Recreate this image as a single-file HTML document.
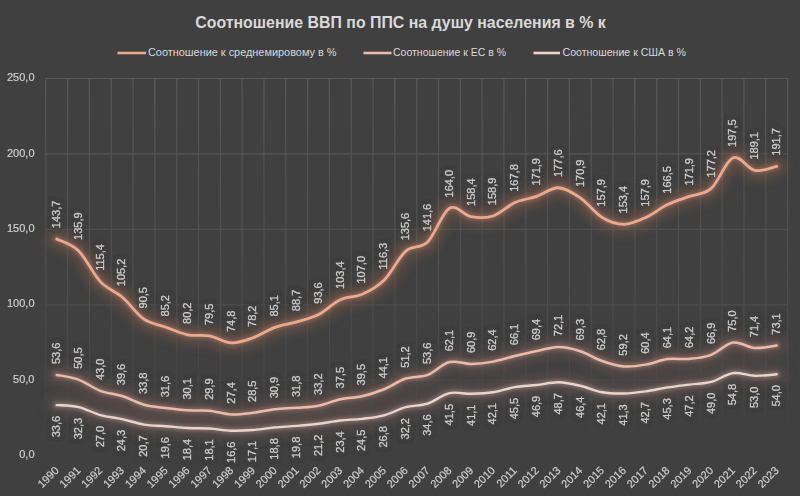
<!DOCTYPE html>
<html><head><meta charset="utf-8"><style>
html,body{margin:0;padding:0;background:#404040;}
body{width:800px;height:496px;overflow:hidden;}
svg{display:block;font-family:"Liberation Sans",sans-serif;}
</style></head><body>
<svg width="800" height="496" viewBox="0 0 800 496">
<defs>
<filter id="glow" x="-10%" y="-30%" width="120%" height="160%"><feGaussianBlur stdDeviation="5"/></filter>
<filter id="haloonly" x="-5%" y="-5%" width="110%" height="110%"><feMorphology in="SourceAlpha" operator="dilate" radius="1.5" result="d"/><feGaussianBlur in="d" stdDeviation="1.5" result="b"/><feFlood flood-color="#404040"/><feComposite in2="b" operator="in" result="h"/><feMerge><feMergeNode in="h"/><feMergeNode in="h"/></feMerge></filter>
<filter id="halo" x="-5%" y="-5%" width="110%" height="110%"><feMorphology in="SourceAlpha" operator="dilate" radius="1" result="d"/><feGaussianBlur in="d" stdDeviation="1.2" result="b"/><feFlood flood-color="#404040" flood-opacity="0.5"/><feComposite in2="b" operator="in" result="h"/><feMerge><feMergeNode in="h"/><feMergeNode in="SourceGraphic"/></feMerge></filter>
<linearGradient id="gfade" gradientUnits="userSpaceOnUse" x1="0" y1="78" x2="0" y2="456"><stop offset="0" stop-color="#fff" stop-opacity="1"/><stop offset="0.6" stop-color="#fff" stop-opacity="0.5"/><stop offset="0.95" stop-color="#fff" stop-opacity="0.05"/><stop offset="1" stop-color="#fff" stop-opacity="0"/></linearGradient>
<mask id="gmask" maskUnits="userSpaceOnUse" x="0" y="0" width="800" height="496"><rect x="0" y="0" width="800" height="496" fill="url(#gfade)"/></mask>
<filter id="lglow" x="-20%" y="-20%" width="140%" height="140%"><feGaussianBlur stdDeviation="1.5"/></filter>
</defs>
<rect width="800" height="496" fill="#404040"/>

<g stroke="#595959" stroke-width="1.2" fill="none" mask="url(#gmask)">
<line x1="45.80" y1="380.34" x2="787.60" y2="380.34"/>
<line x1="45.80" y1="304.88" x2="787.60" y2="304.88"/>
<line x1="45.80" y1="229.42" x2="787.60" y2="229.42"/>
<line x1="45.80" y1="153.96" x2="787.60" y2="153.96"/>
<line x1="45.80" y1="78.50" x2="787.60" y2="78.50"/>
<line x1="45.80" y1="78.50" x2="45.80" y2="455.80"/>
<line x1="67.62" y1="78.50" x2="67.62" y2="455.80"/>
<line x1="89.44" y1="78.50" x2="89.44" y2="455.80"/>
<line x1="111.25" y1="78.50" x2="111.25" y2="455.80"/>
<line x1="133.07" y1="78.50" x2="133.07" y2="455.80"/>
<line x1="154.89" y1="78.50" x2="154.89" y2="455.80"/>
<line x1="176.71" y1="78.50" x2="176.71" y2="455.80"/>
<line x1="198.52" y1="78.50" x2="198.52" y2="455.80"/>
<line x1="220.34" y1="78.50" x2="220.34" y2="455.80"/>
<line x1="242.16" y1="78.50" x2="242.16" y2="455.80"/>
<line x1="263.98" y1="78.50" x2="263.98" y2="455.80"/>
<line x1="285.79" y1="78.50" x2="285.79" y2="455.80"/>
<line x1="307.61" y1="78.50" x2="307.61" y2="455.80"/>
<line x1="329.43" y1="78.50" x2="329.43" y2="455.80"/>
<line x1="351.25" y1="78.50" x2="351.25" y2="455.80"/>
<line x1="373.06" y1="78.50" x2="373.06" y2="455.80"/>
<line x1="394.88" y1="78.50" x2="394.88" y2="455.80"/>
<line x1="416.70" y1="78.50" x2="416.70" y2="455.80"/>
<line x1="438.52" y1="78.50" x2="438.52" y2="455.80"/>
<line x1="460.34" y1="78.50" x2="460.34" y2="455.80"/>
<line x1="482.15" y1="78.50" x2="482.15" y2="455.80"/>
<line x1="503.97" y1="78.50" x2="503.97" y2="455.80"/>
<line x1="525.79" y1="78.50" x2="525.79" y2="455.80"/>
<line x1="547.61" y1="78.50" x2="547.61" y2="455.80"/>
<line x1="569.42" y1="78.50" x2="569.42" y2="455.80"/>
<line x1="591.24" y1="78.50" x2="591.24" y2="455.80"/>
<line x1="613.06" y1="78.50" x2="613.06" y2="455.80"/>
<line x1="634.88" y1="78.50" x2="634.88" y2="455.80"/>
<line x1="656.69" y1="78.50" x2="656.69" y2="455.80"/>
<line x1="678.51" y1="78.50" x2="678.51" y2="455.80"/>
<line x1="700.33" y1="78.50" x2="700.33" y2="455.80"/>
<line x1="722.15" y1="78.50" x2="722.15" y2="455.80"/>
<line x1="743.96" y1="78.50" x2="743.96" y2="455.80"/>
<line x1="765.78" y1="78.50" x2="765.78" y2="455.80"/>
<line x1="787.60" y1="78.50" x2="787.60" y2="455.80"/>
</g>
<g font-size="11.0" fill="#CDCDCD" stroke="#CDCDCD" stroke-width="0.2" filter="url(#haloonly)"><text transform="translate(57.41,228.13) rotate(-90)" x="0" y="2.6" text-anchor="start">143,7</text>
<text transform="translate(79.23,239.90) rotate(-90)" x="0" y="2.6" text-anchor="start">135,9</text>
<text transform="translate(101.04,270.84) rotate(-90)" x="0" y="2.6" text-anchor="start">115,4</text>
<text transform="translate(122.86,286.23) rotate(-90)" x="0" y="2.6" text-anchor="start">105,2</text>
<text transform="translate(144.68,308.42) rotate(-90)" x="0" y="2.6" text-anchor="start">90,5</text>
<text transform="translate(166.50,316.42) rotate(-90)" x="0" y="2.6" text-anchor="start">85,2</text>
<text transform="translate(188.31,323.96) rotate(-90)" x="0" y="2.6" text-anchor="start">80,2</text>
<text transform="translate(210.13,325.02) rotate(-90)" x="0" y="2.6" text-anchor="start">79,5</text>
<text transform="translate(231.95,332.11) rotate(-90)" x="0" y="2.6" text-anchor="start">74,8</text>
<text transform="translate(253.77,326.98) rotate(-90)" x="0" y="2.6" text-anchor="start">78,2</text>
<text transform="translate(275.59,316.57) rotate(-90)" x="0" y="2.6" text-anchor="start">85,1</text>
<text transform="translate(297.40,311.13) rotate(-90)" x="0" y="2.6" text-anchor="start">88,7</text>
<text transform="translate(319.22,303.74) rotate(-90)" x="0" y="2.6" text-anchor="start">93,6</text>
<text transform="translate(341.04,288.95) rotate(-90)" x="0" y="2.6" text-anchor="start">103,4</text>
<text transform="translate(362.86,283.52) rotate(-90)" x="0" y="2.6" text-anchor="start">107,0</text>
<text transform="translate(384.67,269.48) rotate(-90)" x="0" y="2.6" text-anchor="start">116,3</text>
<text transform="translate(406.49,240.35) rotate(-90)" x="0" y="2.6" text-anchor="start">135,6</text>
<text transform="translate(428.31,231.30) rotate(-90)" x="0" y="2.6" text-anchor="start">141,6</text>
<text transform="translate(450.13,197.49) rotate(-90)" x="0" y="2.6" text-anchor="start">164,0</text>
<text transform="translate(471.94,205.94) rotate(-90)" x="0" y="2.6" text-anchor="start">158,4</text>
<text transform="translate(493.76,205.19) rotate(-90)" x="0" y="2.6" text-anchor="start">158,9</text>
<text transform="translate(515.58,191.76) rotate(-90)" x="0" y="2.6" text-anchor="start">167,8</text>
<text transform="translate(537.40,185.57) rotate(-90)" x="0" y="2.6" text-anchor="start">171,9</text>
<text transform="translate(559.21,176.97) rotate(-90)" x="0" y="2.6" text-anchor="start">177,6</text>
<text transform="translate(581.03,187.08) rotate(-90)" x="0" y="2.6" text-anchor="start">170,9</text>
<text transform="translate(602.85,206.70) rotate(-90)" x="0" y="2.6" text-anchor="start">157,9</text>
<text transform="translate(624.67,213.49) rotate(-90)" x="0" y="2.6" text-anchor="start">153,4</text>
<text transform="translate(646.49,206.70) rotate(-90)" x="0" y="2.6" text-anchor="start">157,9</text>
<text transform="translate(668.30,193.72) rotate(-90)" x="0" y="2.6" text-anchor="start">166,5</text>
<text transform="translate(690.12,185.57) rotate(-90)" x="0" y="2.6" text-anchor="start">171,9</text>
<text transform="translate(711.94,177.57) rotate(-90)" x="0" y="2.6" text-anchor="start">177,2</text>
<text transform="translate(733.76,146.93) rotate(-90)" x="0" y="2.6" text-anchor="start">197,5</text>
<text transform="translate(755.57,159.61) rotate(-90)" x="0" y="2.6" text-anchor="start">189,1</text>
<text transform="translate(777.39,155.69) rotate(-90)" x="0" y="2.6" text-anchor="start">191,7</text>
<text transform="translate(57.41,364.11) rotate(-90)" x="0" y="2.6" text-anchor="start">53,6</text>
<text transform="translate(79.23,368.79) rotate(-90)" x="0" y="2.6" text-anchor="start">50,5</text>
<text transform="translate(101.04,380.10) rotate(-90)" x="0" y="2.6" text-anchor="start">43,0</text>
<text transform="translate(122.86,385.24) rotate(-90)" x="0" y="2.6" text-anchor="start">39,6</text>
<text transform="translate(144.68,393.99) rotate(-90)" x="0" y="2.6" text-anchor="start">33,8</text>
<text transform="translate(166.50,397.31) rotate(-90)" x="0" y="2.6" text-anchor="start">31,6</text>
<text transform="translate(188.31,399.57) rotate(-90)" x="0" y="2.6" text-anchor="start">30,1</text>
<text transform="translate(210.13,399.87) rotate(-90)" x="0" y="2.6" text-anchor="start">29,9</text>
<text transform="translate(231.95,403.65) rotate(-90)" x="0" y="2.6" text-anchor="start">27,4</text>
<text transform="translate(253.77,401.99) rotate(-90)" x="0" y="2.6" text-anchor="start">28,5</text>
<text transform="translate(275.59,398.37) rotate(-90)" x="0" y="2.6" text-anchor="start">30,9</text>
<text transform="translate(297.40,397.01) rotate(-90)" x="0" y="2.6" text-anchor="start">31,8</text>
<text transform="translate(319.22,394.89) rotate(-90)" x="0" y="2.6" text-anchor="start">33,2</text>
<text transform="translate(341.04,388.41) rotate(-90)" x="0" y="2.6" text-anchor="start">37,5</text>
<text transform="translate(362.86,385.39) rotate(-90)" x="0" y="2.6" text-anchor="start">39,5</text>
<text transform="translate(384.67,378.44) rotate(-90)" x="0" y="2.6" text-anchor="start">44,1</text>
<text transform="translate(406.49,367.73) rotate(-90)" x="0" y="2.6" text-anchor="start">51,2</text>
<text transform="translate(428.31,364.11) rotate(-90)" x="0" y="2.6" text-anchor="start">53,6</text>
<text transform="translate(450.13,351.28) rotate(-90)" x="0" y="2.6" text-anchor="start">62,1</text>
<text transform="translate(471.94,353.09) rotate(-90)" x="0" y="2.6" text-anchor="start">60,9</text>
<text transform="translate(493.76,350.83) rotate(-90)" x="0" y="2.6" text-anchor="start">62,4</text>
<text transform="translate(515.58,345.24) rotate(-90)" x="0" y="2.6" text-anchor="start">66,1</text>
<text transform="translate(537.40,340.26) rotate(-90)" x="0" y="2.6" text-anchor="start">69,4</text>
<text transform="translate(559.21,336.19) rotate(-90)" x="0" y="2.6" text-anchor="start">72,1</text>
<text transform="translate(581.03,340.41) rotate(-90)" x="0" y="2.6" text-anchor="start">69,3</text>
<text transform="translate(602.85,350.22) rotate(-90)" x="0" y="2.6" text-anchor="start">62,8</text>
<text transform="translate(624.67,355.66) rotate(-90)" x="0" y="2.6" text-anchor="start">59,2</text>
<text transform="translate(646.49,353.84) rotate(-90)" x="0" y="2.6" text-anchor="start">60,4</text>
<text transform="translate(668.30,348.26) rotate(-90)" x="0" y="2.6" text-anchor="start">64,1</text>
<text transform="translate(690.12,348.11) rotate(-90)" x="0" y="2.6" text-anchor="start">64,2</text>
<text transform="translate(711.94,344.03) rotate(-90)" x="0" y="2.6" text-anchor="start">66,9</text>
<text transform="translate(733.76,331.81) rotate(-90)" x="0" y="2.6" text-anchor="start">75,0</text>
<text transform="translate(755.57,337.24) rotate(-90)" x="0" y="2.6" text-anchor="start">71,4</text>
<text transform="translate(777.39,334.68) rotate(-90)" x="0" y="2.6" text-anchor="start">73,1</text>
<text transform="translate(57.41,415.89) rotate(-90)" x="0" y="2.6" text-anchor="end">33,6</text>
<text transform="translate(79.23,417.85) rotate(-90)" x="0" y="2.6" text-anchor="end">32,3</text>
<text transform="translate(101.04,425.85) rotate(-90)" x="0" y="2.6" text-anchor="end">27,0</text>
<text transform="translate(122.86,429.93) rotate(-90)" x="0" y="2.6" text-anchor="end">24,3</text>
<text transform="translate(144.68,435.36) rotate(-90)" x="0" y="2.6" text-anchor="end">20,7</text>
<text transform="translate(166.50,437.02) rotate(-90)" x="0" y="2.6" text-anchor="end">19,6</text>
<text transform="translate(188.31,438.83) rotate(-90)" x="0" y="2.6" text-anchor="end">18,4</text>
<text transform="translate(210.13,439.28) rotate(-90)" x="0" y="2.6" text-anchor="end">18,1</text>
<text transform="translate(231.95,441.55) rotate(-90)" x="0" y="2.6" text-anchor="end">16,6</text>
<text transform="translate(253.77,440.79) rotate(-90)" x="0" y="2.6" text-anchor="end">17,1</text>
<text transform="translate(275.59,438.23) rotate(-90)" x="0" y="2.6" text-anchor="end">18,8</text>
<text transform="translate(297.40,436.72) rotate(-90)" x="0" y="2.6" text-anchor="end">19,8</text>
<text transform="translate(319.22,434.60) rotate(-90)" x="0" y="2.6" text-anchor="end">21,2</text>
<text transform="translate(341.04,431.28) rotate(-90)" x="0" y="2.6" text-anchor="end">23,4</text>
<text transform="translate(362.86,429.62) rotate(-90)" x="0" y="2.6" text-anchor="end">24,5</text>
<text transform="translate(384.67,426.15) rotate(-90)" x="0" y="2.6" text-anchor="end">26,8</text>
<text transform="translate(406.49,418.00) rotate(-90)" x="0" y="2.6" text-anchor="end">32,2</text>
<text transform="translate(428.31,414.38) rotate(-90)" x="0" y="2.6" text-anchor="end">34,6</text>
<text transform="translate(450.13,403.97) rotate(-90)" x="0" y="2.6" text-anchor="end">41,5</text>
<text transform="translate(471.94,404.57) rotate(-90)" x="0" y="2.6" text-anchor="end">41,1</text>
<text transform="translate(493.76,403.06) rotate(-90)" x="0" y="2.6" text-anchor="end">42,1</text>
<text transform="translate(515.58,397.93) rotate(-90)" x="0" y="2.6" text-anchor="end">45,5</text>
<text transform="translate(537.40,395.82) rotate(-90)" x="0" y="2.6" text-anchor="end">46,9</text>
<text transform="translate(559.21,393.10) rotate(-90)" x="0" y="2.6" text-anchor="end">48,7</text>
<text transform="translate(581.03,396.57) rotate(-90)" x="0" y="2.6" text-anchor="end">46,4</text>
<text transform="translate(602.85,403.06) rotate(-90)" x="0" y="2.6" text-anchor="end">42,1</text>
<text transform="translate(624.67,404.27) rotate(-90)" x="0" y="2.6" text-anchor="end">41,3</text>
<text transform="translate(646.49,402.16) rotate(-90)" x="0" y="2.6" text-anchor="end">42,7</text>
<text transform="translate(668.30,398.23) rotate(-90)" x="0" y="2.6" text-anchor="end">45,3</text>
<text transform="translate(690.12,395.37) rotate(-90)" x="0" y="2.6" text-anchor="end">47,2</text>
<text transform="translate(711.94,392.65) rotate(-90)" x="0" y="2.6" text-anchor="end">49,0</text>
<text transform="translate(733.76,383.90) rotate(-90)" x="0" y="2.6" text-anchor="end">54,8</text>
<text transform="translate(755.57,386.61) rotate(-90)" x="0" y="2.6" text-anchor="end">53,0</text>
<text transform="translate(777.39,385.10) rotate(-90)" x="0" y="2.6" text-anchor="end">54,0</text></g>
<path d="M56.71,238.93 C60.35,240.89 71.25,243.58 78.53,250.70 C85.80,257.82 93.07,273.92 100.34,281.64 C107.62,289.36 114.89,290.77 122.16,297.03 C129.43,303.30 136.71,314.19 143.98,319.22 C151.25,324.25 158.52,324.63 165.80,327.22 C173.07,329.81 180.34,333.33 187.61,334.76 C194.89,336.20 202.16,334.46 209.43,335.82 C216.70,337.18 223.98,342.58 231.25,342.91 C238.52,343.24 245.80,340.37 253.07,337.78 C260.34,335.19 267.61,330.01 274.89,327.37 C282.16,324.73 289.43,324.07 296.70,321.93 C303.98,319.80 311.25,318.24 318.52,314.54 C325.79,310.84 333.07,303.12 340.34,299.75 C347.61,296.38 354.88,297.56 362.16,294.32 C369.43,291.07 376.70,287.47 383.97,280.28 C391.25,273.09 398.52,257.52 405.79,251.15 C413.06,244.79 420.34,249.24 427.61,242.10 C434.88,234.95 442.15,212.52 449.43,208.29 C456.70,204.07 463.97,215.46 471.24,216.74 C478.52,218.03 485.79,218.35 493.06,215.99 C500.33,213.62 507.61,205.83 514.88,202.56 C522.15,199.29 529.42,198.83 536.70,196.37 C543.97,193.90 551.24,187.51 558.51,187.77 C565.79,188.02 573.06,192.92 580.33,197.88 C587.60,202.83 594.88,213.10 602.15,217.50 C609.42,221.90 616.70,224.29 623.97,224.29 C631.24,224.29 638.51,220.79 645.79,217.50 C653.06,214.20 660.33,208.04 667.60,204.52 C674.88,201.00 682.15,199.06 689.42,196.37 C696.69,193.68 703.97,194.81 711.24,188.37 C718.51,181.93 725.78,160.73 733.06,157.73 C740.33,154.74 747.60,168.95 754.87,170.41 C762.15,171.87 773.05,167.14 776.69,166.49" fill="none" stroke="#7a5546" stroke-opacity="0.5" stroke-width="20" stroke-linecap="round" filter="url(#glow)"/>
<path d="M56.71,238.93 C60.35,240.89 71.25,243.58 78.53,250.70 C85.80,257.82 93.07,273.92 100.34,281.64 C107.62,289.36 114.89,290.77 122.16,297.03 C129.43,303.30 136.71,314.19 143.98,319.22 C151.25,324.25 158.52,324.63 165.80,327.22 C173.07,329.81 180.34,333.33 187.61,334.76 C194.89,336.20 202.16,334.46 209.43,335.82 C216.70,337.18 223.98,342.58 231.25,342.91 C238.52,343.24 245.80,340.37 253.07,337.78 C260.34,335.19 267.61,330.01 274.89,327.37 C282.16,324.73 289.43,324.07 296.70,321.93 C303.98,319.80 311.25,318.24 318.52,314.54 C325.79,310.84 333.07,303.12 340.34,299.75 C347.61,296.38 354.88,297.56 362.16,294.32 C369.43,291.07 376.70,287.47 383.97,280.28 C391.25,273.09 398.52,257.52 405.79,251.15 C413.06,244.79 420.34,249.24 427.61,242.10 C434.88,234.95 442.15,212.52 449.43,208.29 C456.70,204.07 463.97,215.46 471.24,216.74 C478.52,218.03 485.79,218.35 493.06,215.99 C500.33,213.62 507.61,205.83 514.88,202.56 C522.15,199.29 529.42,198.83 536.70,196.37 C543.97,193.90 551.24,187.51 558.51,187.77 C565.79,188.02 573.06,192.92 580.33,197.88 C587.60,202.83 594.88,213.10 602.15,217.50 C609.42,221.90 616.70,224.29 623.97,224.29 C631.24,224.29 638.51,220.79 645.79,217.50 C653.06,214.20 660.33,208.04 667.60,204.52 C674.88,201.00 682.15,199.06 689.42,196.37 C696.69,193.68 703.97,194.81 711.24,188.37 C718.51,181.93 725.78,160.73 733.06,157.73 C740.33,154.74 747.60,168.95 754.87,170.41 C762.15,171.87 773.05,167.14 776.69,166.49" fill="none" stroke="#EEA88C" stroke-opacity="0.22" stroke-width="7" stroke-linecap="round" filter="url(#lglow)"/>
<path d="M56.71,374.91 C60.35,375.69 71.25,376.92 78.53,379.59 C85.80,382.25 93.07,388.16 100.34,390.90 C107.62,393.65 114.89,393.72 122.16,396.04 C129.43,398.35 136.71,402.78 143.98,404.79 C151.25,406.80 158.52,407.18 165.80,408.11 C173.07,409.04 180.34,409.95 187.61,410.37 C194.89,410.80 202.16,410.00 209.43,410.67 C216.70,411.35 223.98,414.10 231.25,414.45 C238.52,414.80 245.80,413.67 253.07,412.79 C260.34,411.91 267.61,410.00 274.89,409.17 C282.16,408.34 289.43,408.39 296.70,407.81 C303.98,407.23 311.25,407.13 318.52,405.69 C325.79,404.26 333.07,400.79 340.34,399.21 C347.61,397.62 354.88,397.85 362.16,396.19 C369.43,394.53 376.70,392.19 383.97,389.24 C391.25,386.30 398.52,380.92 405.79,378.53 C413.06,376.14 420.34,377.65 427.61,374.91 C434.88,372.17 442.15,363.91 449.43,362.08 C456.70,360.24 463.97,363.97 471.24,363.89 C478.52,363.81 485.79,362.93 493.06,361.63 C500.33,360.32 507.61,357.80 514.88,356.04 C522.15,354.28 529.42,352.57 536.70,351.06 C543.97,349.55 551.24,346.96 558.51,346.99 C565.79,347.01 573.06,348.87 580.33,351.21 C587.60,353.55 594.88,358.48 602.15,361.02 C609.42,363.56 616.70,365.85 623.97,366.46 C631.24,367.06 638.51,365.88 645.79,364.64 C653.06,363.41 660.33,360.02 667.60,359.06 C674.88,358.10 682.15,359.61 689.42,358.91 C696.69,358.21 703.97,357.55 711.24,354.83 C718.51,352.12 725.78,343.74 733.06,342.61 C740.33,341.48 747.60,347.57 754.87,348.04 C762.15,348.52 773.05,345.91 776.69,345.48" fill="none" stroke="#6c5450" stroke-opacity="0.5" stroke-width="20" stroke-linecap="round" filter="url(#glow)"/>
<path d="M56.71,374.91 C60.35,375.69 71.25,376.92 78.53,379.59 C85.80,382.25 93.07,388.16 100.34,390.90 C107.62,393.65 114.89,393.72 122.16,396.04 C129.43,398.35 136.71,402.78 143.98,404.79 C151.25,406.80 158.52,407.18 165.80,408.11 C173.07,409.04 180.34,409.95 187.61,410.37 C194.89,410.80 202.16,410.00 209.43,410.67 C216.70,411.35 223.98,414.10 231.25,414.45 C238.52,414.80 245.80,413.67 253.07,412.79 C260.34,411.91 267.61,410.00 274.89,409.17 C282.16,408.34 289.43,408.39 296.70,407.81 C303.98,407.23 311.25,407.13 318.52,405.69 C325.79,404.26 333.07,400.79 340.34,399.21 C347.61,397.62 354.88,397.85 362.16,396.19 C369.43,394.53 376.70,392.19 383.97,389.24 C391.25,386.30 398.52,380.92 405.79,378.53 C413.06,376.14 420.34,377.65 427.61,374.91 C434.88,372.17 442.15,363.91 449.43,362.08 C456.70,360.24 463.97,363.97 471.24,363.89 C478.52,363.81 485.79,362.93 493.06,361.63 C500.33,360.32 507.61,357.80 514.88,356.04 C522.15,354.28 529.42,352.57 536.70,351.06 C543.97,349.55 551.24,346.96 558.51,346.99 C565.79,347.01 573.06,348.87 580.33,351.21 C587.60,353.55 594.88,358.48 602.15,361.02 C609.42,363.56 616.70,365.85 623.97,366.46 C631.24,367.06 638.51,365.88 645.79,364.64 C653.06,363.41 660.33,360.02 667.60,359.06 C674.88,358.10 682.15,359.61 689.42,358.91 C696.69,358.21 703.97,357.55 711.24,354.83 C718.51,352.12 725.78,343.74 733.06,342.61 C740.33,341.48 747.60,347.57 754.87,348.04 C762.15,348.52 773.05,345.91 776.69,345.48" fill="none" stroke="#EDBAA8" stroke-opacity="0.22" stroke-width="7" stroke-linecap="round" filter="url(#lglow)"/>
<path d="M56.71,405.09 C60.35,405.42 71.25,405.39 78.53,407.05 C85.80,408.71 93.07,413.04 100.34,415.05 C107.62,417.06 114.89,417.54 122.16,419.13 C129.43,420.71 136.71,423.38 143.98,424.56 C151.25,425.74 158.52,425.64 165.80,426.22 C173.07,426.80 180.34,427.65 187.61,428.03 C194.89,428.41 202.16,428.03 209.43,428.48 C216.70,428.94 223.98,430.50 231.25,430.75 C238.52,431.00 245.80,430.55 253.07,429.99 C260.34,429.44 267.61,428.11 274.89,427.43 C282.16,426.75 289.43,426.52 296.70,425.92 C303.98,425.31 311.25,424.71 318.52,423.80 C325.79,422.90 333.07,421.31 340.34,420.48 C347.61,419.65 354.88,419.68 362.16,418.82 C369.43,417.97 376.70,417.29 383.97,415.35 C391.25,413.42 398.52,409.17 405.79,407.20 C413.06,405.24 420.34,405.92 427.61,403.58 C434.88,401.24 442.15,394.80 449.43,393.17 C456.70,391.53 463.97,393.92 471.24,393.77 C478.52,393.62 485.79,393.37 493.06,392.26 C500.33,391.16 507.61,388.34 514.88,387.13 C522.15,385.92 529.42,385.82 536.70,385.02 C543.97,384.21 551.24,382.18 558.51,382.30 C565.79,382.43 573.06,384.11 580.33,385.77 C587.60,387.43 594.88,390.98 602.15,392.26 C609.42,393.55 616.70,393.62 623.97,393.47 C631.24,393.32 638.51,392.36 645.79,391.36 C653.06,390.35 660.33,388.57 667.60,387.43 C674.88,386.30 682.15,385.50 689.42,384.57 C696.69,383.64 703.97,383.76 711.24,381.85 C718.51,379.94 725.78,374.10 733.06,373.10 C740.33,372.09 747.60,375.61 754.87,375.81 C762.15,376.01 773.05,374.55 776.69,374.30" fill="none" stroke="#665250" stroke-opacity="0.5" stroke-width="20" stroke-linecap="round" filter="url(#glow)"/>
<path d="M56.71,405.09 C60.35,405.42 71.25,405.39 78.53,407.05 C85.80,408.71 93.07,413.04 100.34,415.05 C107.62,417.06 114.89,417.54 122.16,419.13 C129.43,420.71 136.71,423.38 143.98,424.56 C151.25,425.74 158.52,425.64 165.80,426.22 C173.07,426.80 180.34,427.65 187.61,428.03 C194.89,428.41 202.16,428.03 209.43,428.48 C216.70,428.94 223.98,430.50 231.25,430.75 C238.52,431.00 245.80,430.55 253.07,429.99 C260.34,429.44 267.61,428.11 274.89,427.43 C282.16,426.75 289.43,426.52 296.70,425.92 C303.98,425.31 311.25,424.71 318.52,423.80 C325.79,422.90 333.07,421.31 340.34,420.48 C347.61,419.65 354.88,419.68 362.16,418.82 C369.43,417.97 376.70,417.29 383.97,415.35 C391.25,413.42 398.52,409.17 405.79,407.20 C413.06,405.24 420.34,405.92 427.61,403.58 C434.88,401.24 442.15,394.80 449.43,393.17 C456.70,391.53 463.97,393.92 471.24,393.77 C478.52,393.62 485.79,393.37 493.06,392.26 C500.33,391.16 507.61,388.34 514.88,387.13 C522.15,385.92 529.42,385.82 536.70,385.02 C543.97,384.21 551.24,382.18 558.51,382.30 C565.79,382.43 573.06,384.11 580.33,385.77 C587.60,387.43 594.88,390.98 602.15,392.26 C609.42,393.55 616.70,393.62 623.97,393.47 C631.24,393.32 638.51,392.36 645.79,391.36 C653.06,390.35 660.33,388.57 667.60,387.43 C674.88,386.30 682.15,385.50 689.42,384.57 C696.69,383.64 703.97,383.76 711.24,381.85 C718.51,379.94 725.78,374.10 733.06,373.10 C740.33,372.09 747.60,375.61 754.87,375.81 C762.15,376.01 773.05,374.55 776.69,374.30" fill="none" stroke="#EDD3C9" stroke-opacity="0.22" stroke-width="7" stroke-linecap="round" filter="url(#lglow)"/>
<path d="M56.71,238.93 C60.35,240.89 71.25,243.58 78.53,250.70 C85.80,257.82 93.07,273.92 100.34,281.64 C107.62,289.36 114.89,290.77 122.16,297.03 C129.43,303.30 136.71,314.19 143.98,319.22 C151.25,324.25 158.52,324.63 165.80,327.22 C173.07,329.81 180.34,333.33 187.61,334.76 C194.89,336.20 202.16,334.46 209.43,335.82 C216.70,337.18 223.98,342.58 231.25,342.91 C238.52,343.24 245.80,340.37 253.07,337.78 C260.34,335.19 267.61,330.01 274.89,327.37 C282.16,324.73 289.43,324.07 296.70,321.93 C303.98,319.80 311.25,318.24 318.52,314.54 C325.79,310.84 333.07,303.12 340.34,299.75 C347.61,296.38 354.88,297.56 362.16,294.32 C369.43,291.07 376.70,287.47 383.97,280.28 C391.25,273.09 398.52,257.52 405.79,251.15 C413.06,244.79 420.34,249.24 427.61,242.10 C434.88,234.95 442.15,212.52 449.43,208.29 C456.70,204.07 463.97,215.46 471.24,216.74 C478.52,218.03 485.79,218.35 493.06,215.99 C500.33,213.62 507.61,205.83 514.88,202.56 C522.15,199.29 529.42,198.83 536.70,196.37 C543.97,193.90 551.24,187.51 558.51,187.77 C565.79,188.02 573.06,192.92 580.33,197.88 C587.60,202.83 594.88,213.10 602.15,217.50 C609.42,221.90 616.70,224.29 623.97,224.29 C631.24,224.29 638.51,220.79 645.79,217.50 C653.06,214.20 660.33,208.04 667.60,204.52 C674.88,201.00 682.15,199.06 689.42,196.37 C696.69,193.68 703.97,194.81 711.24,188.37 C718.51,181.93 725.78,160.73 733.06,157.73 C740.33,154.74 747.60,168.95 754.87,170.41 C762.15,171.87 773.05,167.14 776.69,166.49" fill="none" stroke="#EEA88C" stroke-width="2.8" stroke-linecap="round"/>
<path d="M56.71,374.91 C60.35,375.69 71.25,376.92 78.53,379.59 C85.80,382.25 93.07,388.16 100.34,390.90 C107.62,393.65 114.89,393.72 122.16,396.04 C129.43,398.35 136.71,402.78 143.98,404.79 C151.25,406.80 158.52,407.18 165.80,408.11 C173.07,409.04 180.34,409.95 187.61,410.37 C194.89,410.80 202.16,410.00 209.43,410.67 C216.70,411.35 223.98,414.10 231.25,414.45 C238.52,414.80 245.80,413.67 253.07,412.79 C260.34,411.91 267.61,410.00 274.89,409.17 C282.16,408.34 289.43,408.39 296.70,407.81 C303.98,407.23 311.25,407.13 318.52,405.69 C325.79,404.26 333.07,400.79 340.34,399.21 C347.61,397.62 354.88,397.85 362.16,396.19 C369.43,394.53 376.70,392.19 383.97,389.24 C391.25,386.30 398.52,380.92 405.79,378.53 C413.06,376.14 420.34,377.65 427.61,374.91 C434.88,372.17 442.15,363.91 449.43,362.08 C456.70,360.24 463.97,363.97 471.24,363.89 C478.52,363.81 485.79,362.93 493.06,361.63 C500.33,360.32 507.61,357.80 514.88,356.04 C522.15,354.28 529.42,352.57 536.70,351.06 C543.97,349.55 551.24,346.96 558.51,346.99 C565.79,347.01 573.06,348.87 580.33,351.21 C587.60,353.55 594.88,358.48 602.15,361.02 C609.42,363.56 616.70,365.85 623.97,366.46 C631.24,367.06 638.51,365.88 645.79,364.64 C653.06,363.41 660.33,360.02 667.60,359.06 C674.88,358.10 682.15,359.61 689.42,358.91 C696.69,358.21 703.97,357.55 711.24,354.83 C718.51,352.12 725.78,343.74 733.06,342.61 C740.33,341.48 747.60,347.57 754.87,348.04 C762.15,348.52 773.05,345.91 776.69,345.48" fill="none" stroke="#EDBAA8" stroke-width="2.5" stroke-linecap="round"/>
<path d="M56.71,405.09 C60.35,405.42 71.25,405.39 78.53,407.05 C85.80,408.71 93.07,413.04 100.34,415.05 C107.62,417.06 114.89,417.54 122.16,419.13 C129.43,420.71 136.71,423.38 143.98,424.56 C151.25,425.74 158.52,425.64 165.80,426.22 C173.07,426.80 180.34,427.65 187.61,428.03 C194.89,428.41 202.16,428.03 209.43,428.48 C216.70,428.94 223.98,430.50 231.25,430.75 C238.52,431.00 245.80,430.55 253.07,429.99 C260.34,429.44 267.61,428.11 274.89,427.43 C282.16,426.75 289.43,426.52 296.70,425.92 C303.98,425.31 311.25,424.71 318.52,423.80 C325.79,422.90 333.07,421.31 340.34,420.48 C347.61,419.65 354.88,419.68 362.16,418.82 C369.43,417.97 376.70,417.29 383.97,415.35 C391.25,413.42 398.52,409.17 405.79,407.20 C413.06,405.24 420.34,405.92 427.61,403.58 C434.88,401.24 442.15,394.80 449.43,393.17 C456.70,391.53 463.97,393.92 471.24,393.77 C478.52,393.62 485.79,393.37 493.06,392.26 C500.33,391.16 507.61,388.34 514.88,387.13 C522.15,385.92 529.42,385.82 536.70,385.02 C543.97,384.21 551.24,382.18 558.51,382.30 C565.79,382.43 573.06,384.11 580.33,385.77 C587.60,387.43 594.88,390.98 602.15,392.26 C609.42,393.55 616.70,393.62 623.97,393.47 C631.24,393.32 638.51,392.36 645.79,391.36 C653.06,390.35 660.33,388.57 667.60,387.43 C674.88,386.30 682.15,385.50 689.42,384.57 C696.69,383.64 703.97,383.76 711.24,381.85 C718.51,379.94 725.78,374.10 733.06,373.10 C740.33,372.09 747.60,375.61 754.87,375.81 C762.15,376.01 773.05,374.55 776.69,374.30" fill="none" stroke="#EDD3C9" stroke-width="2.4" stroke-linecap="round"/>
<g font-size="11.0" fill="#CDCDCD" stroke="#CDCDCD" stroke-width="0.2" filter="url(#halo)"><text transform="translate(57.41,228.13) rotate(-90)" x="0" y="2.6" text-anchor="start">143,7</text>
<text transform="translate(79.23,239.90) rotate(-90)" x="0" y="2.6" text-anchor="start">135,9</text>
<text transform="translate(101.04,270.84) rotate(-90)" x="0" y="2.6" text-anchor="start">115,4</text>
<text transform="translate(122.86,286.23) rotate(-90)" x="0" y="2.6" text-anchor="start">105,2</text>
<text transform="translate(144.68,308.42) rotate(-90)" x="0" y="2.6" text-anchor="start">90,5</text>
<text transform="translate(166.50,316.42) rotate(-90)" x="0" y="2.6" text-anchor="start">85,2</text>
<text transform="translate(188.31,323.96) rotate(-90)" x="0" y="2.6" text-anchor="start">80,2</text>
<text transform="translate(210.13,325.02) rotate(-90)" x="0" y="2.6" text-anchor="start">79,5</text>
<text transform="translate(231.95,332.11) rotate(-90)" x="0" y="2.6" text-anchor="start">74,8</text>
<text transform="translate(253.77,326.98) rotate(-90)" x="0" y="2.6" text-anchor="start">78,2</text>
<text transform="translate(275.59,316.57) rotate(-90)" x="0" y="2.6" text-anchor="start">85,1</text>
<text transform="translate(297.40,311.13) rotate(-90)" x="0" y="2.6" text-anchor="start">88,7</text>
<text transform="translate(319.22,303.74) rotate(-90)" x="0" y="2.6" text-anchor="start">93,6</text>
<text transform="translate(341.04,288.95) rotate(-90)" x="0" y="2.6" text-anchor="start">103,4</text>
<text transform="translate(362.86,283.52) rotate(-90)" x="0" y="2.6" text-anchor="start">107,0</text>
<text transform="translate(384.67,269.48) rotate(-90)" x="0" y="2.6" text-anchor="start">116,3</text>
<text transform="translate(406.49,240.35) rotate(-90)" x="0" y="2.6" text-anchor="start">135,6</text>
<text transform="translate(428.31,231.30) rotate(-90)" x="0" y="2.6" text-anchor="start">141,6</text>
<text transform="translate(450.13,197.49) rotate(-90)" x="0" y="2.6" text-anchor="start">164,0</text>
<text transform="translate(471.94,205.94) rotate(-90)" x="0" y="2.6" text-anchor="start">158,4</text>
<text transform="translate(493.76,205.19) rotate(-90)" x="0" y="2.6" text-anchor="start">158,9</text>
<text transform="translate(515.58,191.76) rotate(-90)" x="0" y="2.6" text-anchor="start">167,8</text>
<text transform="translate(537.40,185.57) rotate(-90)" x="0" y="2.6" text-anchor="start">171,9</text>
<text transform="translate(559.21,176.97) rotate(-90)" x="0" y="2.6" text-anchor="start">177,6</text>
<text transform="translate(581.03,187.08) rotate(-90)" x="0" y="2.6" text-anchor="start">170,9</text>
<text transform="translate(602.85,206.70) rotate(-90)" x="0" y="2.6" text-anchor="start">157,9</text>
<text transform="translate(624.67,213.49) rotate(-90)" x="0" y="2.6" text-anchor="start">153,4</text>
<text transform="translate(646.49,206.70) rotate(-90)" x="0" y="2.6" text-anchor="start">157,9</text>
<text transform="translate(668.30,193.72) rotate(-90)" x="0" y="2.6" text-anchor="start">166,5</text>
<text transform="translate(690.12,185.57) rotate(-90)" x="0" y="2.6" text-anchor="start">171,9</text>
<text transform="translate(711.94,177.57) rotate(-90)" x="0" y="2.6" text-anchor="start">177,2</text>
<text transform="translate(733.76,146.93) rotate(-90)" x="0" y="2.6" text-anchor="start">197,5</text>
<text transform="translate(755.57,159.61) rotate(-90)" x="0" y="2.6" text-anchor="start">189,1</text>
<text transform="translate(777.39,155.69) rotate(-90)" x="0" y="2.6" text-anchor="start">191,7</text>
<text transform="translate(57.41,364.11) rotate(-90)" x="0" y="2.6" text-anchor="start">53,6</text>
<text transform="translate(79.23,368.79) rotate(-90)" x="0" y="2.6" text-anchor="start">50,5</text>
<text transform="translate(101.04,380.10) rotate(-90)" x="0" y="2.6" text-anchor="start">43,0</text>
<text transform="translate(122.86,385.24) rotate(-90)" x="0" y="2.6" text-anchor="start">39,6</text>
<text transform="translate(144.68,393.99) rotate(-90)" x="0" y="2.6" text-anchor="start">33,8</text>
<text transform="translate(166.50,397.31) rotate(-90)" x="0" y="2.6" text-anchor="start">31,6</text>
<text transform="translate(188.31,399.57) rotate(-90)" x="0" y="2.6" text-anchor="start">30,1</text>
<text transform="translate(210.13,399.87) rotate(-90)" x="0" y="2.6" text-anchor="start">29,9</text>
<text transform="translate(231.95,403.65) rotate(-90)" x="0" y="2.6" text-anchor="start">27,4</text>
<text transform="translate(253.77,401.99) rotate(-90)" x="0" y="2.6" text-anchor="start">28,5</text>
<text transform="translate(275.59,398.37) rotate(-90)" x="0" y="2.6" text-anchor="start">30,9</text>
<text transform="translate(297.40,397.01) rotate(-90)" x="0" y="2.6" text-anchor="start">31,8</text>
<text transform="translate(319.22,394.89) rotate(-90)" x="0" y="2.6" text-anchor="start">33,2</text>
<text transform="translate(341.04,388.41) rotate(-90)" x="0" y="2.6" text-anchor="start">37,5</text>
<text transform="translate(362.86,385.39) rotate(-90)" x="0" y="2.6" text-anchor="start">39,5</text>
<text transform="translate(384.67,378.44) rotate(-90)" x="0" y="2.6" text-anchor="start">44,1</text>
<text transform="translate(406.49,367.73) rotate(-90)" x="0" y="2.6" text-anchor="start">51,2</text>
<text transform="translate(428.31,364.11) rotate(-90)" x="0" y="2.6" text-anchor="start">53,6</text>
<text transform="translate(450.13,351.28) rotate(-90)" x="0" y="2.6" text-anchor="start">62,1</text>
<text transform="translate(471.94,353.09) rotate(-90)" x="0" y="2.6" text-anchor="start">60,9</text>
<text transform="translate(493.76,350.83) rotate(-90)" x="0" y="2.6" text-anchor="start">62,4</text>
<text transform="translate(515.58,345.24) rotate(-90)" x="0" y="2.6" text-anchor="start">66,1</text>
<text transform="translate(537.40,340.26) rotate(-90)" x="0" y="2.6" text-anchor="start">69,4</text>
<text transform="translate(559.21,336.19) rotate(-90)" x="0" y="2.6" text-anchor="start">72,1</text>
<text transform="translate(581.03,340.41) rotate(-90)" x="0" y="2.6" text-anchor="start">69,3</text>
<text transform="translate(602.85,350.22) rotate(-90)" x="0" y="2.6" text-anchor="start">62,8</text>
<text transform="translate(624.67,355.66) rotate(-90)" x="0" y="2.6" text-anchor="start">59,2</text>
<text transform="translate(646.49,353.84) rotate(-90)" x="0" y="2.6" text-anchor="start">60,4</text>
<text transform="translate(668.30,348.26) rotate(-90)" x="0" y="2.6" text-anchor="start">64,1</text>
<text transform="translate(690.12,348.11) rotate(-90)" x="0" y="2.6" text-anchor="start">64,2</text>
<text transform="translate(711.94,344.03) rotate(-90)" x="0" y="2.6" text-anchor="start">66,9</text>
<text transform="translate(733.76,331.81) rotate(-90)" x="0" y="2.6" text-anchor="start">75,0</text>
<text transform="translate(755.57,337.24) rotate(-90)" x="0" y="2.6" text-anchor="start">71,4</text>
<text transform="translate(777.39,334.68) rotate(-90)" x="0" y="2.6" text-anchor="start">73,1</text>
<text transform="translate(57.41,415.89) rotate(-90)" x="0" y="2.6" text-anchor="end">33,6</text>
<text transform="translate(79.23,417.85) rotate(-90)" x="0" y="2.6" text-anchor="end">32,3</text>
<text transform="translate(101.04,425.85) rotate(-90)" x="0" y="2.6" text-anchor="end">27,0</text>
<text transform="translate(122.86,429.93) rotate(-90)" x="0" y="2.6" text-anchor="end">24,3</text>
<text transform="translate(144.68,435.36) rotate(-90)" x="0" y="2.6" text-anchor="end">20,7</text>
<text transform="translate(166.50,437.02) rotate(-90)" x="0" y="2.6" text-anchor="end">19,6</text>
<text transform="translate(188.31,438.83) rotate(-90)" x="0" y="2.6" text-anchor="end">18,4</text>
<text transform="translate(210.13,439.28) rotate(-90)" x="0" y="2.6" text-anchor="end">18,1</text>
<text transform="translate(231.95,441.55) rotate(-90)" x="0" y="2.6" text-anchor="end">16,6</text>
<text transform="translate(253.77,440.79) rotate(-90)" x="0" y="2.6" text-anchor="end">17,1</text>
<text transform="translate(275.59,438.23) rotate(-90)" x="0" y="2.6" text-anchor="end">18,8</text>
<text transform="translate(297.40,436.72) rotate(-90)" x="0" y="2.6" text-anchor="end">19,8</text>
<text transform="translate(319.22,434.60) rotate(-90)" x="0" y="2.6" text-anchor="end">21,2</text>
<text transform="translate(341.04,431.28) rotate(-90)" x="0" y="2.6" text-anchor="end">23,4</text>
<text transform="translate(362.86,429.62) rotate(-90)" x="0" y="2.6" text-anchor="end">24,5</text>
<text transform="translate(384.67,426.15) rotate(-90)" x="0" y="2.6" text-anchor="end">26,8</text>
<text transform="translate(406.49,418.00) rotate(-90)" x="0" y="2.6" text-anchor="end">32,2</text>
<text transform="translate(428.31,414.38) rotate(-90)" x="0" y="2.6" text-anchor="end">34,6</text>
<text transform="translate(450.13,403.97) rotate(-90)" x="0" y="2.6" text-anchor="end">41,5</text>
<text transform="translate(471.94,404.57) rotate(-90)" x="0" y="2.6" text-anchor="end">41,1</text>
<text transform="translate(493.76,403.06) rotate(-90)" x="0" y="2.6" text-anchor="end">42,1</text>
<text transform="translate(515.58,397.93) rotate(-90)" x="0" y="2.6" text-anchor="end">45,5</text>
<text transform="translate(537.40,395.82) rotate(-90)" x="0" y="2.6" text-anchor="end">46,9</text>
<text transform="translate(559.21,393.10) rotate(-90)" x="0" y="2.6" text-anchor="end">48,7</text>
<text transform="translate(581.03,396.57) rotate(-90)" x="0" y="2.6" text-anchor="end">46,4</text>
<text transform="translate(602.85,403.06) rotate(-90)" x="0" y="2.6" text-anchor="end">42,1</text>
<text transform="translate(624.67,404.27) rotate(-90)" x="0" y="2.6" text-anchor="end">41,3</text>
<text transform="translate(646.49,402.16) rotate(-90)" x="0" y="2.6" text-anchor="end">42,7</text>
<text transform="translate(668.30,398.23) rotate(-90)" x="0" y="2.6" text-anchor="end">45,3</text>
<text transform="translate(690.12,395.37) rotate(-90)" x="0" y="2.6" text-anchor="end">47,2</text>
<text transform="translate(711.94,392.65) rotate(-90)" x="0" y="2.6" text-anchor="end">49,0</text>
<text transform="translate(733.76,383.90) rotate(-90)" x="0" y="2.6" text-anchor="end">54,8</text>
<text transform="translate(755.57,386.61) rotate(-90)" x="0" y="2.6" text-anchor="end">53,0</text>
<text transform="translate(777.39,385.10) rotate(-90)" x="0" y="2.6" text-anchor="end">54,0</text></g>
<g font-size="11.0" fill="#CDCDCD" stroke="#CDCDCD" stroke-width="0.2" text-anchor="end">
<text x="34.5" y="458.40">0,0</text>
<text x="34.5" y="382.94">50,0</text>
<text x="34.5" y="307.48">100,0</text>
<text x="34.5" y="232.02">150,0</text>
<text x="34.5" y="156.56">200,0</text>
<text x="34.5" y="81.10">250,0</text>
</g>
<g font-size="11.0" fill="#CDCDCD" stroke="#CDCDCD" stroke-width="0.2" text-anchor="end">
<text transform="translate(56.81,468.50) rotate(-45)" x="0" y="3.8">1990</text>
<text transform="translate(78.63,468.50) rotate(-45)" x="0" y="3.8">1991</text>
<text transform="translate(100.44,468.50) rotate(-45)" x="0" y="3.8">1992</text>
<text transform="translate(122.26,468.50) rotate(-45)" x="0" y="3.8">1993</text>
<text transform="translate(144.08,468.50) rotate(-45)" x="0" y="3.8">1994</text>
<text transform="translate(165.90,468.50) rotate(-45)" x="0" y="3.8">1995</text>
<text transform="translate(187.71,468.50) rotate(-45)" x="0" y="3.8">1996</text>
<text transform="translate(209.53,468.50) rotate(-45)" x="0" y="3.8">1997</text>
<text transform="translate(231.35,468.50) rotate(-45)" x="0" y="3.8">1998</text>
<text transform="translate(253.17,468.50) rotate(-45)" x="0" y="3.8">1999</text>
<text transform="translate(274.99,468.50) rotate(-45)" x="0" y="3.8">2000</text>
<text transform="translate(296.80,468.50) rotate(-45)" x="0" y="3.8">2001</text>
<text transform="translate(318.62,468.50) rotate(-45)" x="0" y="3.8">2002</text>
<text transform="translate(340.44,468.50) rotate(-45)" x="0" y="3.8">2003</text>
<text transform="translate(362.26,468.50) rotate(-45)" x="0" y="3.8">2004</text>
<text transform="translate(384.07,468.50) rotate(-45)" x="0" y="3.8">2005</text>
<text transform="translate(405.89,468.50) rotate(-45)" x="0" y="3.8">2006</text>
<text transform="translate(427.71,468.50) rotate(-45)" x="0" y="3.8">2007</text>
<text transform="translate(449.53,468.50) rotate(-45)" x="0" y="3.8">2008</text>
<text transform="translate(471.34,468.50) rotate(-45)" x="0" y="3.8">2009</text>
<text transform="translate(493.16,468.50) rotate(-45)" x="0" y="3.8">2010</text>
<text transform="translate(514.98,468.50) rotate(-45)" x="0" y="3.8">2011</text>
<text transform="translate(536.80,468.50) rotate(-45)" x="0" y="3.8">2012</text>
<text transform="translate(558.61,468.50) rotate(-45)" x="0" y="3.8">2013</text>
<text transform="translate(580.43,468.50) rotate(-45)" x="0" y="3.8">2014</text>
<text transform="translate(602.25,468.50) rotate(-45)" x="0" y="3.8">2015</text>
<text transform="translate(624.07,468.50) rotate(-45)" x="0" y="3.8">2016</text>
<text transform="translate(645.89,468.50) rotate(-45)" x="0" y="3.8">2017</text>
<text transform="translate(667.70,468.50) rotate(-45)" x="0" y="3.8">2018</text>
<text transform="translate(689.52,468.50) rotate(-45)" x="0" y="3.8">2019</text>
<text transform="translate(711.34,468.50) rotate(-45)" x="0" y="3.8">2020</text>
<text transform="translate(733.16,468.50) rotate(-45)" x="0" y="3.8">2021</text>
<text transform="translate(754.97,468.50) rotate(-45)" x="0" y="3.8">2022</text>
<text transform="translate(776.79,468.50) rotate(-45)" x="0" y="3.8">2023</text>
</g>
<text x="400.5" y="28" text-anchor="middle" font-size="15.9" font-weight="bold" fill="#D9D9D9">Соотношение ВВП по ППС на душу населения в % к</text>
<line x1="117.5" y1="53" x2="146.0" y2="53" stroke="#7a5442" stroke-opacity="0.5" stroke-width="8" filter="url(#lglow)"/>
<line x1="117.5" y1="53" x2="146.0" y2="53" stroke="#EEA88C" stroke-width="2.6" stroke-linecap="butt"/>
<text x="148.0" y="56.2" font-size="11.4" fill="#D9D9D9" textLength="188.5" lengthAdjust="spacingAndGlyphs">Соотношение к среднемировому в %</text>
<line x1="363.5" y1="53" x2="391.5" y2="53" stroke="#7a5442" stroke-opacity="0.5" stroke-width="8" filter="url(#lglow)"/>
<line x1="363.5" y1="53" x2="391.5" y2="53" stroke="#EDBAA8" stroke-width="2.6" stroke-linecap="butt"/>
<text x="393.0" y="56.2" font-size="11.4" fill="#D9D9D9" textLength="113.0" lengthAdjust="spacingAndGlyphs">Соотношение к ЕС в %</text>
<line x1="533.5" y1="53" x2="560.0" y2="53" stroke="#7a5442" stroke-opacity="0.5" stroke-width="8" filter="url(#lglow)"/>
<line x1="533.5" y1="53" x2="560.0" y2="53" stroke="#EDD3C9" stroke-width="2.6" stroke-linecap="butt"/>
<text x="562.5" y="56.2" font-size="11.4" fill="#D9D9D9" textLength="123.5" lengthAdjust="spacingAndGlyphs">Соотношение к США в %</text>
</svg></body></html>
